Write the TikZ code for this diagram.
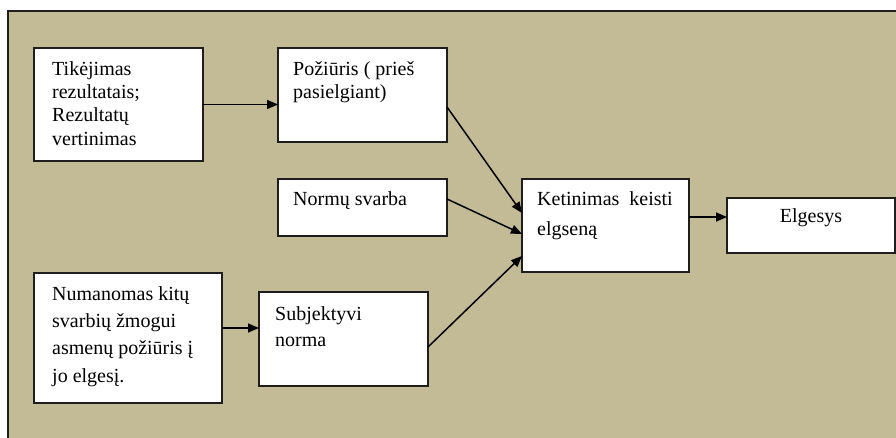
\documentclass[tikz,border=0pt]{standalone}
\usepackage{fontspec}
\setmainfont{Liberation Serif}
\usetikzlibrary{arrows.meta,calc}
\definecolor{tanbg}{RGB}{195,187,150}
\definecolor{edge}{RGB}{30,30,30}
\tikzset{
  box/.style={draw=edge, line width=1.5pt, fill=white, anchor=north west, inner sep=0pt, outer sep=0pt},
  txt/.style={anchor=north west, inner sep=0pt, align=left, font=\fontsize{20}{23.3}\selectfont},
  arr/.style={draw=black, line width=1.5pt, -{Triangle[length=11pt,width=9pt]}}
}
\begin{document}
\begin{tikzpicture}[x=1pt,y=-1pt]
\useasboundingbox (0,0) rectangle (896,438);
\path[fill=white] (0,0) rectangle (896,438);
\path[fill=tanbg, draw=edge, line width=1.5pt] (8,11) rectangle (905,450);

% boxes
\node[box, minimum width=169pt, minimum height=113pt] (b1) at (34,48) {};
\node[box, minimum width=169pt, minimum height=94pt] (b2) at (278,48) {};
\node[box, minimum width=169pt, minimum height=57pt] (b3) at (278,179) {};
\node[box, minimum width=188pt, minimum height=130pt] (b4) at (34,273) {};
\node[box, minimum width=169pt, minimum height=94pt] (b5) at (259,292) {};
\node[box, minimum width=167pt, minimum height=93pt] (b6) at (522,179) {};
\node[box, minimum width=168pt, minimum height=55pt] (b7) at (727,198) {};

% texts
\node[txt] (t1) at (52,61.3) {Tikėjimas\\rezultatais;\\Rezultatų\\vertinimas};
\node[txt] (t2) at (293,61.3) {Požiūris ( prieš\\pasielgiant)};
\node[txt] (t3) at (293,191.3) {Normų svarba};
\node[txt, font=\fontsize{20}{27.3}\selectfont] (t4) at (52,286.3) {Numanomas kitų\\svarbių žmogui\\asmenų požiūris į\\jo elgesį.};
\node[txt, font=\fontsize{20}{26.5}\selectfont] (t5) at (275,306.3) {Subjektyvi\\norma};
\node[txt, font=\fontsize{20}{30}\selectfont] (t6) at (537,191.3) {Ketinimas\ \ keisti\\elgseną};
\node[txt, anchor=north] (t7) at (811,208.3) {Elgesys};

% connectors
\draw[arr] (b1.east) -- (b1.east -| b2.west);
\draw[arr] ([yshift=-12pt]b2.east) -- ([yshift=12.5pt]b6.west);
\draw[arr] ([yshift=8.5pt]b3.east) -- ([yshift=-8.5pt]b6.west);
\draw[arr] ([yshift=-8pt]b5.east) -- ([yshift=-30.5pt]b6.west);
\draw[arr] ([yshift=10pt]b4.east) -- ([yshift=10pt]b4.east -| b5.west);
\draw[arr] ([yshift=8.5pt]b6.east) -- ([yshift=8.5pt]b6.east -| b7.west);
\end{tikzpicture}
\end{document}
